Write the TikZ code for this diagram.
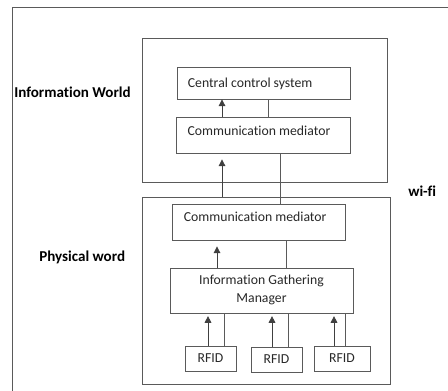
\documentclass[tikz,border=0pt]{standalone}
\usepackage{fontspec}
\setmainfont[Ligatures={NoCommon}]{Carlito}
\usetikzlibrary{fit,arrows.meta}
\definecolor{linecol}{RGB}{90,90,90}
\definecolor{txtcol}{RGB}{40,40,40}
\tikzset{
  box/.style={draw=linecol, line width=0.65pt, inner sep=0pt},
  boxtext/.style={font=\fontsize{10.3}{13}\selectfont, text=txtcol, align=center},
  lbl/.style={font=\bfseries\fontsize{11.3}{14}\selectfont, text=black},
  arr/.style={draw=black!75, line width=0.65pt, -{Triangle[length=5pt,width=5pt]}},
  ln/.style={draw=linecol, line width=0.65pt},
}
\begin{document}
\begin{tikzpicture}[x=0.75pt,y=-0.75pt]
\clip (0,0) rectangle (448,390);
\fill[white] (0,0) rectangle (448,390);
% outer frame (extends past right and bottom edges)
\draw[ln] (12,420) -- (12,7) -- (470,7);
% containers
\node[box, fit={(142,38) (387,182)}] (info) {};
\node[box, fit={(142,197) (390,384)}] (phys) {};
% boxes
\node[box, fit={(177,67) (350,99)}] (ccs) {};
\node[boxtext] at ([xshift=-10pt,yshift=-0.75pt]ccs.center) {Central control system};
\node[box, fit={(176,117) (350,153)}] (cm1) {};
\node[boxtext] at ([xshift=-3pt,yshift=3.5pt]cm1.center) {Communication mediator};
\node[box, fit={(172,204) (345,240)}] (cm2) {};
\node[boxtext] at ([xshift=-2.5pt,yshift=4pt]cm2.center) {Communication mediator};
\node[box, fit={(170,268) (353,313)}] (igm) {};
\node[boxtext] at ([yshift=0.5pt]igm.center) {Information Gathering\\Manager};
\node[box, fit={(185,346) (236,371)}] (rf1) {};
\node[boxtext] at (rf1.center) {RFID};
\node[box, fit={(251,347) (302,372)}] (rf2) {};
\node[boxtext] at (rf2.center) {RFID};
\node[box, fit={(314,346) (370,371)}] (rf3) {};
\node[boxtext] at (rf3.center) {RFID};
% labels
\node[lbl, anchor=west, inner sep=0pt] (lw) at (14,92) {Information World};
\node[lbl, anchor=west, inner sep=0pt] (lp) at (39,257) {Physical word};
\node[lbl, anchor=west, inner sep=0pt] (lf) at (408,191) {wi-fi};
% connectors
\draw[arr] (cm1.north -| 222,0) -- (ccs.south -| 222,0);
\draw[ln] (ccs.south -| 268,0) -- (cm1.north -| 268,0);
\draw[arr, shorten >=6*0.75pt] (phys.north -| 222,0) -- (cm1.south -| 222,0);
\draw[ln] (cm1.south -| 280,0) -- (cm2.north -| 280,0);
\draw[arr, shorten >=6*0.75pt] (igm.north -| 217,0) -- (cm2.south -| 217,0);
\draw[ln] (cm2.south -| 286,0) -- (igm.north -| 286,0);
\draw[arr, shorten >=2pt] (rf1.north -| 208,0) -- (igm.south -| 208,0);
\draw[ln] (igm.south -| 224,0) -- (rf1.north -| 224,0);
\draw[arr, shorten >=2pt] (rf2.north -| 272,0) -- (igm.south -| 272,0);
\draw[ln] (igm.south -| 288,0) -- (rf2.north -| 288,0);
\draw[arr, shorten >=2pt] (rf3.north -| 334,0) -- (igm.south -| 334,0);
\draw[ln] (igm.south -| 345,0) -- (rf3.north -| 345,0);
\end{tikzpicture}
\end{document}
